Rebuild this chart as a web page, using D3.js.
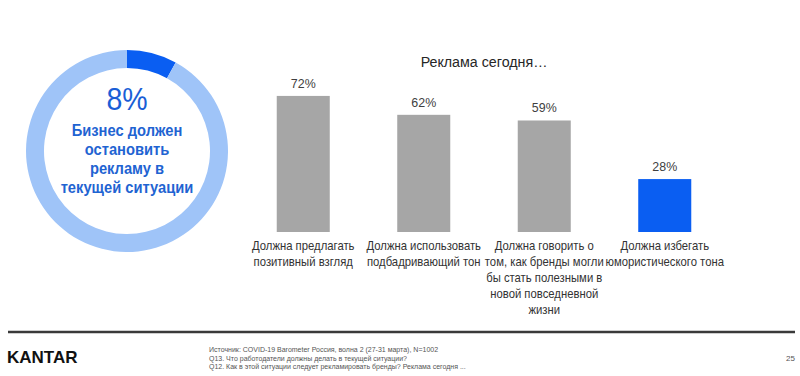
<!DOCTYPE html>
<html>
<head>
<meta charset="utf-8">
<script src="https://cdn.jsdelivr.net/npm/d3@7"></script>
<style>
  html, body { margin: 0; padding: 0; background: #fff; }
  svg { display: block; font-family: "Liberation Sans", Arial, sans-serif; }
</style>
</head>
<body>
<svg id="chart" width="800" height="376"></svg>
<script>
// data
const donutValue = 8;
const donutLines = ['Бизнес должен', 'остановить', 'рекламу в', 'текущей ситуации'];

const categories = [
	['Должна предлагать', 'позитивный взгляд'],
	['Должна использовать', 'подбадривающий тон'],
	['Должна говорить о', 'том, как бренды могли', 'бы стать полезными в', 'новой повседневной', 'жизни'],
	['Должна избегать', 'юмористического тона']
];
const values = [72, 62, 59, 28];
const highlight = [false, false, false, true];

const chartTitle = 'Реклама сегодня…';
const footnotes = [
	'Источник: COVID-19 Barometer Россия, волна 2 (27-31 марта), N=1002',
	'Q13. Что работодатели должны делать в текущей ситуации?',
	' Q12. Как в этой ситуации следует рекламировать бренды? Реклама сегодня ...'
];
const pageNumber = '25';

// the source slide text is a little narrower than Arial
const squeeze = 0.92;

const svg = d3.select('#chart');

// donut
const cx = 127, cy = 151, outerR = 101, innerR = 83;
const pie = d3.pie().sort(null).value(d => d);
const arc = d3.arc().innerRadius(innerR).outerRadius(outerR);
const donut = svg.append('g').attr('transform', `translate(${cx},${cy})`);
donut.selectAll('path')
	.data(pie([donutValue, 100 - donutValue]))
	.join('path')
	.attr('d', arc)
	.attr('fill', (d, i) => i === 0 ? '#0a5ef2' : '#9fc4f8');

const donutText = donut.append('g').attr('transform', `scale(${squeeze},1)`);
donutText.append('text')
	.attr('text-anchor', 'middle')
	.attr('y', -41)
	.attr('font-size', 31)
	.attr('fill', '#1a5ed6')
	.text(donutValue + '%');

donutText.selectAll('text.line')
	.data(donutLines)
	.join('text')
	.attr('class', 'line')
	.attr('text-anchor', 'middle')
	.attr('y', (d, i) => -15 + i * 19)
	.attr('font-size', 16)
	.attr('font-weight', 'bold')
	.attr('fill', '#1f64d2')
	.text(d => d);

// bars
const x = d3.scaleBand()
	.domain(d3.range(values.length))
	.range([243, 725])
	.paddingInner(0.56)
	.paddingOuter(0.28);
const y = d3.scaleLinear().domain([0, 100]).range([232, 43]);
const mid = i => x(i) + x.bandwidth() / 2;

svg.append('text')
	.attr('transform', `translate(484,67) scale(${squeeze},1)`)
	.attr('text-anchor', 'middle')
	.attr('font-size', 15.5)
	.attr('fill', '#262626')
	.text(chartTitle);

svg.append('g').selectAll('rect')
	.data(values)
	.join('rect')
	.attr('x', (d, i) => x(i))
	.attr('y', d => y(d))
	.attr('width', x.bandwidth())
	.attr('height', d => y(0) - y(d))
	.attr('fill', (d, i) => highlight[i] ? '#0a5ef2' : '#a6a6a6');

svg.append('g').selectAll('text')
	.data(values)
	.join('text')
	.attr('transform', (d, i) => `translate(${mid(i)},${y(d) - 8}) scale(${squeeze},1)`)
	.attr('text-anchor', 'middle')
	.attr('font-size', 13.5)
	.attr('fill', '#404040')
	.text(d => d + '%');

svg.append('g').selectAll('text')
	.data(categories)
	.join('text')
	.attr('transform', (d, i) => `translate(${mid(i)},0) scale(${squeeze},1)`)
	.attr('text-anchor', 'middle')
	.attr('font-size', 12.3)
	.attr('fill', '#333')
	.each(function(lines){
		d3.select(this).selectAll('tspan')
			.data(lines)
			.join('tspan')
			.attr('x', 0)
			.attr('y', (d, j) => 250 + j * 16)
			.text(d => d);
	});

// footer
svg.append('line')
	.attr('x1', 8).attr('x2', 795)
	.attr('y1', 332).attr('y2', 332)
	.attr('stroke', '#3a3a3a')
	.attr('stroke-width', 2.5);

svg.append('text')
	.attr('x', 7)
	.attr('y', 363)
	.attr('font-size', 17)
	.attr('font-weight', 'bold')
	.attr('fill', '#111')
	.text('KANTAR');

svg.append('g').selectAll('text')
	.data(footnotes)
	.join('text')
	.attr('x', 209)
	.attr('y', (d, i) => 352 + i * 8.5)
	.attr('font-size', 7)
	.attr('fill', '#555')
	.text(d => d);

svg.append('text')
	.attr('x', 795)
	.attr('y', 361)
	.attr('text-anchor', 'end')
	.attr('font-size', 8)
	.attr('fill', '#555')
	.text(pageNumber);
</script>
</body>
</html>
